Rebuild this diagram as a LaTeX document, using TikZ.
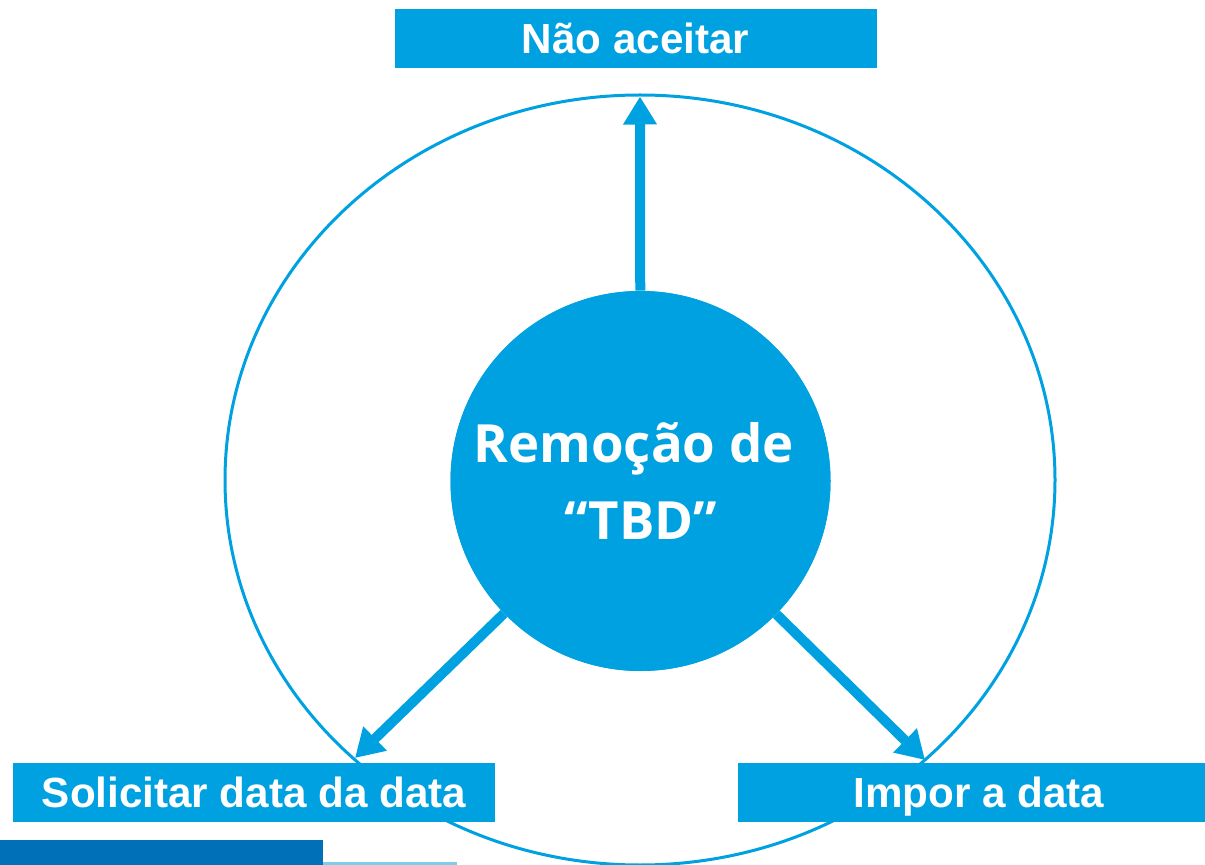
\documentclass[tikz,border=0pt]{standalone}
\usepackage{fontspec}
\setmainfont{Liberation Sans}
\newfontfamily\hubfont{Open Sans}
\usetikzlibrary{arrows.meta}
\definecolor{tbdblue}{RGB}{0,161,224}
\definecolor{footblue}{RGB}{0,112,184}
\definecolor{footlight}{RGB}{125,205,238}
\tikzset{
	optionbox/.style={fill=tbdblue, text=white, font=\bfseries\fontsize{24}{28}\selectfont, minimum width=9.64cm, minimum height=1.18cm, inner sep=0pt, text height=0.6cm, text depth=0cm},
	hubnode/.style={circle, fill=tbdblue, text=white, minimum size=7.6cm, inner sep=0pt, align=center, font=\hubfont\bfseries\fontsize{30}{44}\selectfont},
	pointer/.style={draw=tbdblue, line width=0.2cm, -{Triangle[length=0.56cm,width=0.64cm]}}
}
\begin{document}
\begin{tikzpicture}
			\useasboundingbox (0,0) rectangle (24.1,-17.3);
			\clip (0,0) rectangle (24.1,-17.3);
			\draw[tbdblue, line width=0.06cm] (12.8,-9.6) ellipse [x radius=8.3, y radius=7.7];
			\coordinate (tipT) at (12.8,-1.93);
			\coordinate (tipL) at (7.1,-15.16);
			\coordinate (tipR) at (18.5,-15.2);
			\node[hubnode] (hub) at (12.81,-9.62) {\mbox{Remoção de\ }\\“TBD”};
			\draw[pointer] (hub) -- (tipT);
			\draw[pointer] (hub) -- (tipL);
			\draw[pointer] (hub) -- (tipR);
			\node[hubnode] at (hub) {\mbox{Remoção de\ }\\“TBD”};
			\node[optionbox] (reject) at (12.71,-0.77) {Não aceitar};
			\node[optionbox] (ask) at (5.08,-15.85) {Solicitar data da data};
			\node[optionbox] (impose) at (19.58,-15.85) {Impor a data};
			\fill[footblue] (0,-16.8) rectangle (6.46,-17.3);
			\fill[footlight] (6.46,-17.24) rectangle (9.14,-17.3);
\end{tikzpicture}
\end{document}
